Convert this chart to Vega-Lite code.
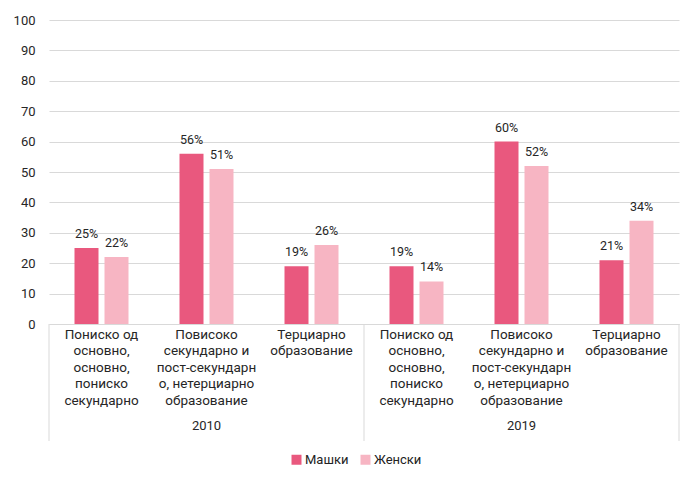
{
  "$schema": "https://vega.github.io/schema/vega-lite/v6.json",
  "width": 630,
  "height": 304,
  "autosize": {"type": "none"},
  "padding": {"left": 49, "top": 20, "right": 5, "bottom": 158},
  "background": "white",
  "config": {
    "font": "Roboto",
    "view": {"stroke": null},
    "axis": {"labelFont": "Roboto", "labelColor": "#262626", "labelFontSize": 13},
    "axisY": {
      "title": null,
      "values": [0, 10, 20, 30, 40, 50, 60, 70, 80, 90, 100],
      "labelOverlap": false,
      "domain": false,
      "ticks": false,
      "labelPadding": 14,
      "grid": true,
      "gridColor": "#D9D9D9",
      "gridWidth": 1
    }
  },
  "datasets": {
    "bars": [
      {"year": "2010", "slot": "2010|Пониско од основно, основно, пониско секундарно", "sex": "Машки", "value": 25},
      {"year": "2010", "slot": "2010|Пониско од основно, основно, пониско секундарно", "sex": "Женски", "value": 22},
      {"year": "2010", "slot": "2010|Повисоко секундарно и пост-секундарно, нетерциарно образование", "sex": "Машки", "value": 56},
      {"year": "2010", "slot": "2010|Повисоко секундарно и пост-секундарно, нетерциарно образование", "sex": "Женски", "value": 51},
      {"year": "2010", "slot": "2010|Терциарно образование", "sex": "Машки", "value": 19},
      {"year": "2010", "slot": "2010|Терциарно образование", "sex": "Женски", "value": 26},
      {"year": "2019", "slot": "2019|Пониско од основно, основно, пониско секундарно", "sex": "Машки", "value": 19},
      {"year": "2019", "slot": "2019|Пониско од основно, основно, пониско секундарно", "sex": "Женски", "value": 14},
      {"year": "2019", "slot": "2019|Повисоко секундарно и пост-секундарно, нетерциарно образование", "sex": "Машки", "value": 60},
      {"year": "2019", "slot": "2019|Повисоко секундарно и пост-секундарно, нетерциарно образование", "sex": "Женски", "value": 52},
      {"year": "2019", "slot": "2019|Терциарно образование", "sex": "Машки", "value": 21},
      {"year": "2019", "slot": "2019|Терциарно образование", "sex": "Женски", "value": 34}
    ],
    "years": [
      {"year": "2010", "slot": "2010|Повисоко секундарно и пост-секундарно, нетерциарно образование"},
      {"year": "2019", "slot": "2019|Повисоко секундарно и пост-секундарно, нетерциарно образование"}
    ],
    "startEdges": [
      {"slot": "2010|Пониско од основно, основно, пониско секундарно"},
      {"slot": "2019|Пониско од основно, основно, пониско секундарно"}
    ],
    "endEdges": [
      {"slot": "2019|Терциарно образование"}
    ]
  },
  "encoding": {
    "x": {
      "field": "slot",
      "type": "nominal",
      "scale": {
        "domain": [
          "2010|Пониско од основно, основно, пониско секундарно",
          "2010|Повисоко секундарно и пост-секундарно, нетерциарно образование",
          "2010|Терциарно образование",
          "2019|Пониско од основно, основно, пониско секундарно",
          "2019|Повисоко секундарно и пост-секундарно, нетерциарно образование",
          "2019|Терциарно образование"
        ],
        "paddingInner": 0,
        "paddingOuter": 0
      },
      "axis": {
        "title": null,
        "labelAngle": 0,
        "ticks": false,
        "domainColor": "#D9D9D9",
        "labelPadding": 3,
        "labelFontSize": 13.5,
        "labelBaseline": "top",
        "labelLineHeight": 16.5,
        "labelLimit": 0,
        "labelOverlap": false,
        "labelExpr": "split(datum.label, '|')[1] === 'Пониско од основно, основно, пониско секундарно' ? ['Пониско од', 'основно,', 'основно,', 'пониско', 'секундарно'] : split(datum.label, '|')[1] === 'Терциарно образование' ? ['Терциарно', 'образование'] : ['Повисоко', 'секундарно и', 'пост-секундарн', 'о, нетерциарно', 'образование']"
      }
    }
  },
  "layer": [
    {
      "data": {"name": "bars"},
      "mark": {"type": "bar"},
      "encoding": {
        "xOffset": {"field": "sex", "type": "nominal", "scale": {"domain": ["Машки", "Женски"], "paddingInner": 0.2, "paddingOuter": 0.85}},
        "y": {
          "field": "value",
          "type": "quantitative",
          "scale": {"domain": [0, 100], "nice": false}
        },
        "color": {
          "field": "sex",
          "type": "nominal",
          "scale": {"domain": ["Машки", "Женски"], "range": ["#E9587E", "#F7B5C3"]},
          "legend": {
            "title": null,
            "orient": "none",
            "legendX": 241,
            "legendY": 433,
            "direction": "horizontal",
            "symbolType": "square",
            "symbolSize": 100,
            "symbolStrokeWidth": 0,
            "labelFontSize": 13,
            "labelColor": "#222222",
            "labelFont": "Roboto",
            "labelOffset": 2,
            "columnSpacing": 0
          }
        }
      }
    },
    {
      "data": {"name": "bars"},
      "mark": {"type": "text", "baseline": "bottom", "dy": -7, "fontSize": 12.5, "color": "#262626", "text": {"expr": "datum.value + '%'"}},
      "encoding": {
        "xOffset": {"field": "sex", "type": "nominal"},
        "y": {"field": "value", "type": "quantitative"}
      }
    },
    {
      "data": {"name": "years"},
      "mark": {"type": "text", "baseline": "middle", "fontSize": 13, "color": "#262626"},
      "encoding": {
        "y": {"datum": -33.5, "type": "quantitative"},
        "text": {"field": "year"}
      }
    },
    {
      "data": {"name": "startEdges"},
      "mark": {"type": "rule", "color": "#D9D9D9", "strokeWidth": 1},
      "encoding": {
        "x": {"field": "slot", "type": "nominal", "bandPosition": 0},
        "y": {"datum": 0, "type": "quantitative"},
        "y2": {"datum": -38.5}
      }
    },
    {
      "data": {"name": "endEdges"},
      "mark": {"type": "rule", "color": "#D9D9D9", "strokeWidth": 1},
      "encoding": {
        "x": {"field": "slot", "type": "nominal", "bandPosition": 1},
        "y": {"datum": 0, "type": "quantitative"},
        "y2": {"datum": -38.5}
      }
    }
  ]
}
